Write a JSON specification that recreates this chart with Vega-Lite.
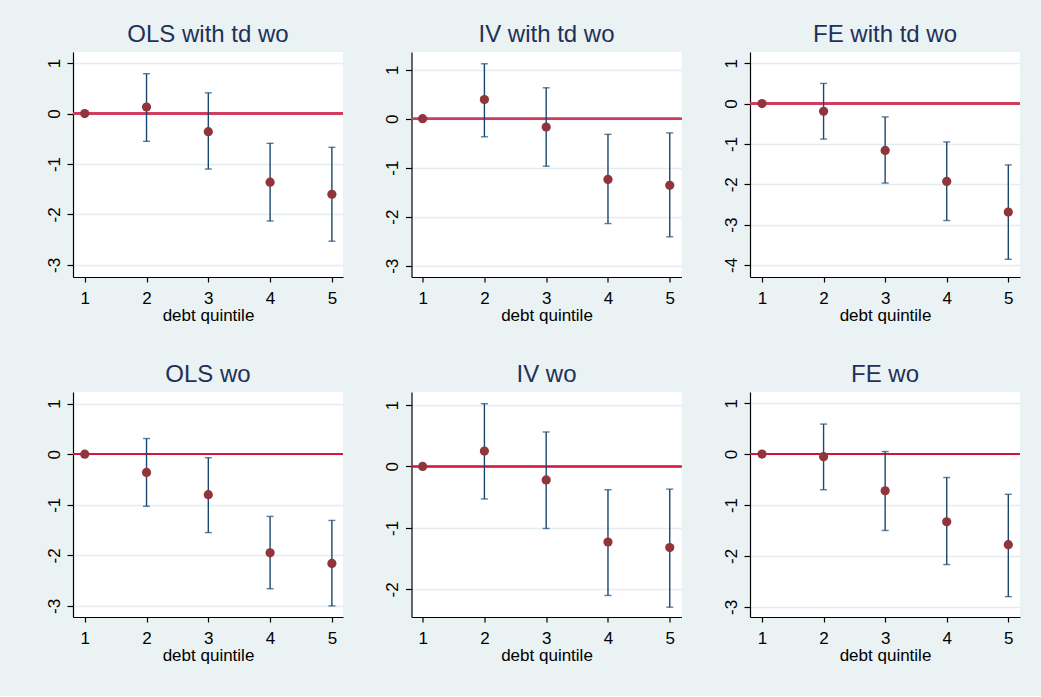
{
  "$schema": "https://vega.github.io/schema/vega-lite/v6.json",
  "background": "#EAF2F3",
  "padding": {"left": 44, "top": 23, "right": 20, "bottom": 32},
  "config": {
    "view": {"fill": "white", "stroke": null},
    "font": "Liberation Sans",
    "title": {"font": "Liberation Sans", "fontSize": 24, "fontWeight": "normal", "color": "#1F3158", "baseline": "alphabetic", "offset": 5, "frame": "group", "anchor": "middle"},
    "axis": {"labelFont": "Liberation Sans", "labelFontSize": 17, "labelColor": "black", "titleFont": "Liberation Sans", "titleFontSize": 17, "titleFontWeight": "normal", "titleColor": "black", "domainColor": "black", "domainWidth": 1.2, "tickColor": "black", "tickWidth": 1.2, "labelExpr": "datum.value < 0 ? '-' + abs(datum.value) : '' + datum.value"},
    "axisX": {"grid": false, "tickSize": 5, "labelPadding": 8.5, "labelAngle": 0, "titlePadding": 1, "labelFlush": false},
    "axisY": {"grid": true, "gridColor": "#E3ECEF", "gridWidth": 1.5, "tickSize": 6, "labelPadding": 8, "labelAngle": 270, "labelBaseline": "alphabetic", "labelAlign": "center", "title": null}
  },
  "data": {"values": [
    {"model": "OLS with td wo", "q": 1, "est": 0, "lo": null, "hi": null},
    {"model": "OLS with td wo", "q": 2, "est": 0.13, "lo": -0.55, "hi": 0.79},
    {"model": "OLS with td wo", "q": 3, "est": -0.36, "lo": -1.10, "hi": 0.41},
    {"model": "OLS with td wo", "q": 4, "est": -1.36, "lo": -2.13, "hi": -0.59},
    {"model": "OLS with td wo", "q": 5, "est": -1.60, "lo": -2.53, "hi": -0.67},
    {"model": "IV with td wo", "q": 1, "est": 0, "lo": null, "hi": null},
    {"model": "IV with td wo", "q": 2, "est": 0.39, "lo": -0.37, "hi": 1.12},
    {"model": "IV with td wo", "q": 3, "est": -0.17, "lo": -0.97, "hi": 0.63},
    {"model": "IV with td wo", "q": 4, "est": -1.24, "lo": -2.14, "hi": -0.32},
    {"model": "IV with td wo", "q": 5, "est": -1.36, "lo": -2.41, "hi": -0.29},
    {"model": "FE with td wo", "q": 1, "est": 0, "lo": null, "hi": null},
    {"model": "FE with td wo", "q": 2, "est": -0.19, "lo": -0.88, "hi": 0.50},
    {"model": "FE with td wo", "q": 3, "est": -1.16, "lo": -1.97, "hi": -0.33},
    {"model": "FE with td wo", "q": 4, "est": -1.93, "lo": -2.90, "hi": -0.95},
    {"model": "FE with td wo", "q": 5, "est": -2.69, "lo": -3.86, "hi": -1.52},
    {"model": "OLS wo", "q": 1, "est": 0, "lo": null, "hi": null},
    {"model": "OLS wo", "q": 2, "est": -0.36, "lo": -1.03, "hi": 0.31},
    {"model": "OLS wo", "q": 3, "est": -0.80, "lo": -1.55, "hi": -0.07},
    {"model": "OLS wo", "q": 4, "est": -1.95, "lo": -2.66, "hi": -1.23},
    {"model": "OLS wo", "q": 5, "est": -2.16, "lo": -3.00, "hi": -1.31},
    {"model": "IV wo", "q": 1, "est": 0, "lo": null, "hi": null},
    {"model": "IV wo", "q": 2, "est": 0.25, "lo": -0.53, "hi": 1.02},
    {"model": "IV wo", "q": 3, "est": -0.22, "lo": -1.01, "hi": 0.56},
    {"model": "IV wo", "q": 4, "est": -1.23, "lo": -2.10, "hi": -0.38},
    {"model": "IV wo", "q": 5, "est": -1.32, "lo": -2.29, "hi": -0.37},
    {"model": "FE wo", "q": 1, "est": 0, "lo": null, "hi": null},
    {"model": "FE wo", "q": 2, "est": -0.05, "lo": -0.70, "hi": 0.59},
    {"model": "FE wo", "q": 3, "est": -0.72, "lo": -1.50, "hi": 0.05},
    {"model": "FE wo", "q": 4, "est": -1.33, "lo": -2.17, "hi": -0.46},
    {"model": "FE wo", "q": 5, "est": -1.78, "lo": -2.80, "hi": -0.79}
  ]},
  "columns": 3,
  "spacing": {"column": 39.5, "row": 39},
  "concat": [
    {
      "title": "OLS with td wo", "width": 270, "height": 225,
      "transform": [{"filter": "datum.model == 'OLS with td wo'"}],
      "layer": [
        {"mark": {"type": "rule", "color": "#CF3B5E", "strokeWidth": 2}, "encoding": {"y": {"datum": 0, "type": "quantitative"}}},
        {"transform": [{"filter": "datum.lo != null"}], "mark": {"type": "errorbar", "ticks": {"size": 7}, "color": "#1A476F", "thickness": 1.4},
         "encoding": {"x": {"field": "q", "type": "quantitative"}, "y": {"field": "lo", "type": "quantitative"}, "y2": {"field": "hi"}}},
        {"mark": {"type": "circle", "size": 85, "color": "#90353B", "opacity": 1},
         "encoding": {
           "x": {"field": "q", "type": "quantitative", "scale": {"domain": [0.81, 5.18], "nice": false, "zero": false}, "axis": {"values": [1, 2, 3, 4, 5], "title": "debt quintile"}},
           "y": {"field": "est", "type": "quantitative", "scale": {"domain": [-3.24, 1.22], "nice": false, "zero": false}, "axis": {"values": [-3, -2, -1, 0, 1], "title": null}}}}
      ]
    },
    {
      "title": "IV with td wo", "width": 270, "height": 225,
      "transform": [{"filter": "datum.model == 'IV with td wo'"}],
      "layer": [
        {"mark": {"type": "rule", "color": "#CF3B5E", "strokeWidth": 2}, "encoding": {"y": {"datum": 0, "type": "quantitative"}}},
        {"transform": [{"filter": "datum.lo != null"}], "mark": {"type": "errorbar", "ticks": {"size": 7}, "color": "#1A476F", "thickness": 1.4},
         "encoding": {"x": {"field": "q", "type": "quantitative"}, "y": {"field": "lo", "type": "quantitative"}, "y2": {"field": "hi"}}},
        {"mark": {"type": "circle", "size": 85, "color": "#90353B", "opacity": 1},
         "encoding": {
           "x": {"field": "q", "type": "quantitative", "scale": {"domain": [0.82, 5.19], "nice": false, "zero": false}, "axis": {"values": [1, 2, 3, 4, 5], "title": "debt quintile"}},
           "y": {"field": "est", "type": "quantitative", "scale": {"domain": [-3.23, 1.36], "nice": false, "zero": false}, "axis": {"values": [-3, -2, -1, 0, 1], "title": null}}}}
      ]
    },
    {
      "title": "FE with td wo", "width": 270, "height": 225,
      "transform": [{"filter": "datum.model == 'FE with td wo'"}],
      "layer": [
        {"mark": {"type": "rule", "color": "#CF3B5E", "strokeWidth": 2}, "encoding": {"y": {"datum": 0, "type": "quantitative"}}},
        {"transform": [{"filter": "datum.lo != null"}], "mark": {"type": "errorbar", "ticks": {"size": 7}, "color": "#1A476F", "thickness": 1.4},
         "encoding": {"x": {"field": "q", "type": "quantitative"}, "y": {"field": "lo", "type": "quantitative"}, "y2": {"field": "hi"}}},
        {"mark": {"type": "circle", "size": 85, "color": "#90353B", "opacity": 1},
         "encoding": {
           "x": {"field": "q", "type": "quantitative", "scale": {"domain": [0.805, 5.19], "nice": false, "zero": false}, "axis": {"values": [1, 2, 3, 4, 5], "title": "debt quintile"}},
           "y": {"field": "est", "type": "quantitative", "scale": {"domain": [-4.30, 1.28], "nice": false, "zero": false}, "axis": {"values": [-4, -3, -2, -1, 0, 1], "title": null}}}}
      ]
    },
    {
      "title": "OLS wo", "width": 270, "height": 225,
      "transform": [{"filter": "datum.model == 'OLS wo'"}],
      "layer": [
        {"mark": {"type": "rule", "color": "#D1143F", "strokeWidth": 1.5}, "encoding": {"y": {"datum": 0, "type": "quantitative"}}},
        {"transform": [{"filter": "datum.lo != null"}], "mark": {"type": "errorbar", "ticks": {"size": 7}, "color": "#1A476F", "thickness": 1.4},
         "encoding": {"x": {"field": "q", "type": "quantitative"}, "y": {"field": "lo", "type": "quantitative"}, "y2": {"field": "hi"}}},
        {"mark": {"type": "circle", "size": 85, "color": "#90353B", "opacity": 1},
         "encoding": {
           "x": {"field": "q", "type": "quantitative", "scale": {"domain": [0.81, 5.18], "nice": false, "zero": false}, "axis": {"values": [1, 2, 3, 4, 5], "title": "debt quintile"}},
           "y": {"field": "est", "type": "quantitative", "scale": {"domain": [-3.22, 1.23], "nice": false, "zero": false}, "axis": {"values": [-3, -2, -1, 0, 1], "title": null}}}}
      ]
    },
    {
      "title": "IV wo", "width": 270, "height": 225,
      "transform": [{"filter": "datum.model == 'IV wo'"}],
      "layer": [
        {"mark": {"type": "rule", "color": "#D1143F", "strokeWidth": 1.5}, "encoding": {"y": {"datum": 0, "type": "quantitative"}}},
        {"transform": [{"filter": "datum.lo != null"}], "mark": {"type": "errorbar", "ticks": {"size": 7}, "color": "#1A476F", "thickness": 1.4},
         "encoding": {"x": {"field": "q", "type": "quantitative"}, "y": {"field": "lo", "type": "quantitative"}, "y2": {"field": "hi"}}},
        {"mark": {"type": "circle", "size": 85, "color": "#90353B", "opacity": 1},
         "encoding": {
           "x": {"field": "q", "type": "quantitative", "scale": {"domain": [0.82, 5.19], "nice": false, "zero": false}, "axis": {"values": [1, 2, 3, 4, 5], "title": "debt quintile"}},
           "y": {"field": "est", "type": "quantitative", "scale": {"domain": [-2.45, 1.21], "nice": false, "zero": false}, "axis": {"values": [-2, -1, 0, 1], "title": null}}}}
      ]
    },
    {
      "title": "FE wo", "width": 270, "height": 225,
      "transform": [{"filter": "datum.model == 'FE wo'"}],
      "layer": [
        {"mark": {"type": "rule", "color": "#D1143F", "strokeWidth": 1.5}, "encoding": {"y": {"datum": 0, "type": "quantitative"}}},
        {"transform": [{"filter": "datum.lo != null"}], "mark": {"type": "errorbar", "ticks": {"size": 7}, "color": "#1A476F", "thickness": 1.4},
         "encoding": {"x": {"field": "q", "type": "quantitative"}, "y": {"field": "lo", "type": "quantitative"}, "y2": {"field": "hi"}}},
        {"mark": {"type": "circle", "size": 85, "color": "#90353B", "opacity": 1},
         "encoding": {
           "x": {"field": "q", "type": "quantitative", "scale": {"domain": [0.805, 5.19], "nice": false, "zero": false}, "axis": {"values": [1, 2, 3, 4, 5], "title": "debt quintile"}},
           "y": {"field": "est", "type": "quantitative", "scale": {"domain": [-3.20, 1.22], "nice": false, "zero": false}, "axis": {"values": [-3, -2, -1, 0, 1], "title": null}}}}
      ]
    }
  ]
}
